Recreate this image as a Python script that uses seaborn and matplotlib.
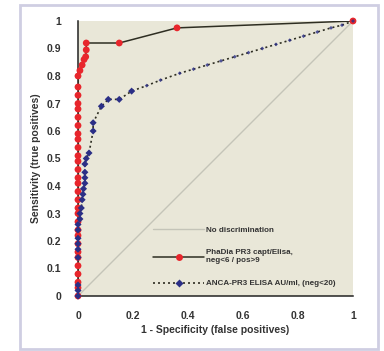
import matplotlib
matplotlib.use("Agg")
import matplotlib.pyplot as plt
from matplotlib.lines import Line2D
from matplotlib.patches import Rectangle
import pandas as pd
import seaborn as sns

# ROC curve, PhaDia PR3 capture ELISA
phadia_fpr = [0, 0, 0, 0, 0, 0, 0, 0, 0, 0, 0, 0, 0, 0, 0, 0, 0, 0, 0, 0,
              0, 0, 0, 0, 0, 0, 0, 0, 0, 0, 0.007, 0.015, 0.022, 0.028,
              0.03, 0.03, 0.15, 0.36, 1.0]
phadia_tpr = [0, 0.03, 0.05, 0.08, 0.11, 0.14, 0.16, 0.19, 0.22, 0.24, 0.27,
              0.30, 0.32, 0.35, 0.38, 0.41, 0.43, 0.46, 0.49, 0.51, 0.54,
              0.57, 0.59, 0.62, 0.65, 0.68, 0.70, 0.73, 0.76, 0.80, 0.82,
              0.84, 0.86, 0.87, 0.895, 0.92, 0.92, 0.975, 1.0]

# ROC curve, ANCA-PR3 ELISA
anca_fpr = [0, 0, 0, 0, 0, 0, 0, 0, 0, 0.007, 0.007, 0.012, 0.015, 0.018,
            0.02, 0.025, 0.025, 0.025, 0.025, 0.03, 0.04, 0.055, 0.055,
            0.085, 0.11, 0.15, 0.195,
            0.25, 0.30, 0.37, 0.42, 0.47, 0.52, 0.57, 0.62, 0.67, 0.72,
            0.77, 0.82, 0.87, 0.92, 0.96, 1.0]
anca_tpr = [0, 0.02, 0.04, 0.14, 0.17, 0.19, 0.21, 0.24, 0.26, 0.28, 0.30,
            0.32, 0.35, 0.37, 0.39, 0.41, 0.43, 0.45, 0.48, 0.50, 0.52,
            0.60, 0.63, 0.69, 0.715, 0.715, 0.745,
            0.765, 0.785, 0.81, 0.825, 0.84, 0.855, 0.87, 0.885, 0.90, 0.915,
            0.93, 0.945, 0.96, 0.975, 0.985, 1.0]
anca_big = 27  # points drawn with full-size markers

diag = [0, 1]

x_ticks = [0, 0.2, 0.4, 0.6, 0.8, 1]
x_ticklabels = ["0", "0.2", "0.4", "0.6", "0.8", "1"]
y_ticks = [0, 0.1, 0.2, 0.3, 0.4, 0.5, 0.6, 0.7, 0.8, 0.9, 1]
y_ticklabels = ["0", "0.1", "0.2", "0.3", "0.4", "0.5", "0.6", "0.7", "0.8", "0.9", "1"]

sns.set_theme(style="white")
plt.rcParams["font.family"] = ["Liberation Sans", "DejaVu Sans"]
plt.rcParams["font.weight"] = "bold"

RED = "#e8262c"
NAVY = "#2b2f86"
LINE = "#2e2e22"
BG = "#e9e7d8"
TXT = "#333333"

fig = plt.figure(figsize=(3.84, 3.51), dpi=100)
fig.patch.set_facecolor("white")
fig.add_artist(Rectangle((20 / 384, 1 - 349 / 351), 358 / 384, 344 / 351,
                         transform=fig.transFigure, fill=False,
                         edgecolor="#cfcee2", linewidth=2))

ax = fig.add_axes([78 / 384, 1 - 296 / 351, 275 / 384, 275 / 351])
ax.set_facecolor(BG)

df_diag = pd.DataFrame({"x": diag, "y": diag})
df_ph = pd.DataFrame({"x": phadia_fpr, "y": phadia_tpr})
df_an = pd.DataFrame({"x": anca_fpr, "y": anca_tpr})

sns.lineplot(data=df_diag, x="x", y="y", ax=ax, color="#c4c4b8", lw=1.0,
             sort=False, estimator=None)
sns.lineplot(data=df_ph, x="x", y="y", ax=ax, color=LINE, lw=1.1,
             sort=False, estimator=None, zorder=3)
sns.lineplot(data=df_an, x="x", y="y", ax=ax, color=LINE, lw=1.2,
             linestyle=(0, (1.2, 1.8)), sort=False, estimator=None, zorder=3)

ax.scatter(df_ph["x"], df_ph["y"], s=24, color=RED, edgecolor="none",
           zorder=4, clip_on=False)
ax.scatter(df_an["x"][:anca_big], df_an["y"][:anca_big], s=13, marker="D",
           color=NAVY, edgecolor="none", zorder=5, clip_on=False)
ax.scatter(df_an["x"][anca_big:], df_an["y"][anca_big:], s=4, marker="D",
           color=NAVY, edgecolor="none", zorder=5, clip_on=False, alpha=0.8)

ax.set_xlim(0, 1)
ax.set_ylim(0, 1)
ax.set_xticks(x_ticks)
ax.set_xticklabels(x_ticklabels)
ax.set_yticks(y_ticks)
ax.set_yticklabels(y_ticklabels)
ax.tick_params(axis="both", labelsize=7.5, length=4, width=1, color="#222222",
               direction="out", pad=7, labelcolor=TXT)
ax.tick_params(axis="y", pad=8)
for side in ["top", "right"]:
    ax.spines[side].set_visible(False)
for side in ["left", "bottom"]:
    ax.spines[side].set_color("#222222")
    ax.spines[side].set_linewidth(1.1)

ax.set_xlabel("1 - Specificity (false positives)", fontsize=7.5,
              fontweight="bold", color=TXT, labelpad=3)
ax.set_ylabel("Sensitivity (true positives)", fontsize=7.5,
              fontweight="bold", color=TXT, labelpad=4)

handles = [
    Line2D([], [], color="#c4c4b8", lw=1.0),
    Line2D([], [], color=LINE, lw=1.1, marker="o", markersize=5,
           markerfacecolor=RED, markeredgecolor="none"),
    Line2D([], [], color=LINE, lw=1.2, linestyle=(0, (1.2, 1.8)), marker="D",
           markersize=4, markerfacecolor=NAVY, markeredgecolor="none"),
]
labels = ["No discrimination",
          "PhaDia PR3 capt/Elisa,\nneg<6 / pos>9",
          "ANCA-PR3 ELISA AU/ml, (neg<20)"]
leg = ax.legend(handles, labels, loc="lower left", bbox_to_anchor=(0.25, 0.008),
                frameon=False, fontsize=5.8, handlelength=6.3, handletextpad=0.2,
                labelspacing=1.9, borderpad=0.3)
for t in leg.get_texts():
    t.set_color(TXT)
    t.set_fontweight("bold")

fig.savefig("out.png", dpi=100, facecolor="white")
